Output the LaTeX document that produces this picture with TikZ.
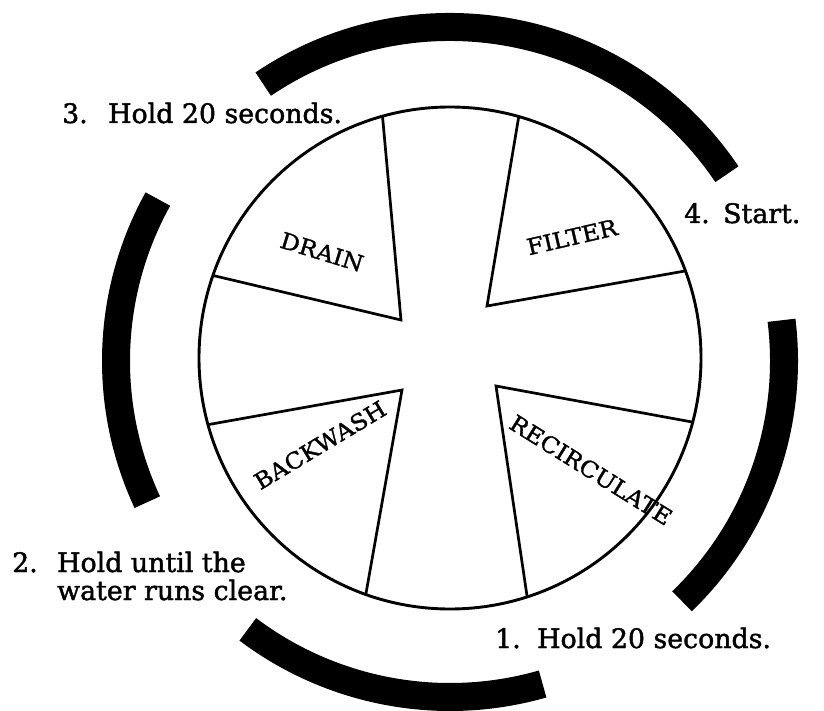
\documentclass[tikz,border=0pt]{standalone}
\usepackage{fontspec}
\setmainfont{DejaVu Serif}
\newfontfamily\stepfont[FakeBold=1.6]{DejaVu Serif}
\newfontfamily\wedgefont[FakeBold=1.4,FakeStretch=1.07]{DejaVu Serif}
\usetikzlibrary{calc}
\begin{document}
\begin{tikzpicture}[x=1pt,y=-1pt,
  band/.style={line width=28pt,line cap=butt,black},
  rim/.style={line width=2.9pt,black},
  spoke/.style={line width=2.7pt,black,line join=miter},
  steptext/.style={anchor=base west,inner sep=0pt,font=\stepfont\fontsize{26.8}{32}\selectfont},
  wedgelabel/.style={inner sep=0pt,font=\wedgefont\fontsize{22.5}{26}\selectfont}]
\useasboundingbox (0,0) rectangle (824,711);
\fill[white] (0,0) rectangle (824,711);
% outer bands (centre of bands)
\coordinate (B) at (450,361);
\draw[band] ($(B)+(-124:334)$) arc[start angle=-124,end angle=-34,radius=334];
\draw[band] ($(B)+(-151:334)$) arc[start angle=-151,end angle=-205,radius=334];
\draw[band] ($(B)+(-233:336)$) arc[start angle=-233,end angle=-286,radius=336];
\draw[band] ($(B)+(46:334)$) arc[start angle=46,end angle=-7,radius=334];
% dial
\coordinate (C) at (450,358);
\draw[rim] (C) circle[radius=251];
\coordinate (tl) at (401,320);
\coordinate (tr) at (487,306);
\coordinate (bl) at (402,390);
\coordinate (br) at (496,386);
\draw[spoke] ($(C)+(-105.6:251)$) -- (tl) -- ($(C)+(-160.8:251)$);
\draw[spoke] ($(C)+(-74.1:251)$) -- (tr) -- ($(C)+(-20.3:251)$);
\draw[spoke] ($(C)+(-195.4:251)$) -- (bl) -- ($(C)+(-250.4:251)$);
\draw[spoke] ($(C)+(14.8:251)$) -- (br) -- ($(C)+(72.1:251)$);
% wedge labels
\node[wedgelabel,rotate=-17] (drain) at (322,252) {DRAIN};
\node[wedgelabel,rotate=13] (filter) at (572,237) {FILTER};
\node[wedgelabel,rotate=31] (backwash) at (320,445) {BACKWASH};
\node[wedgelabel,rotate=-32] (recirc) at (591,470) {RECIRCULATE};
% step texts
\node[steptext] (s3n) at (62,123) {3.};
\node[steptext] (s3t) at (108,123) {Hold 20 seconds.};
\node[steptext] (s4n) at (684,223) {4.};
\node[steptext] (s4t) at (723,223) {Start.};
\node[steptext] (s2n) at (12,572) {2.};
\node[steptext] (s2t) at (57,572) {Hold until the};
\node[steptext] (s2u) at (57,600) {water runs clear.};
\node[steptext] (s1n) at (495,648) {1.};
\node[steptext] (s1t) at (537,648) {Hold 20 seconds.};
\end{tikzpicture}
\end{document}
